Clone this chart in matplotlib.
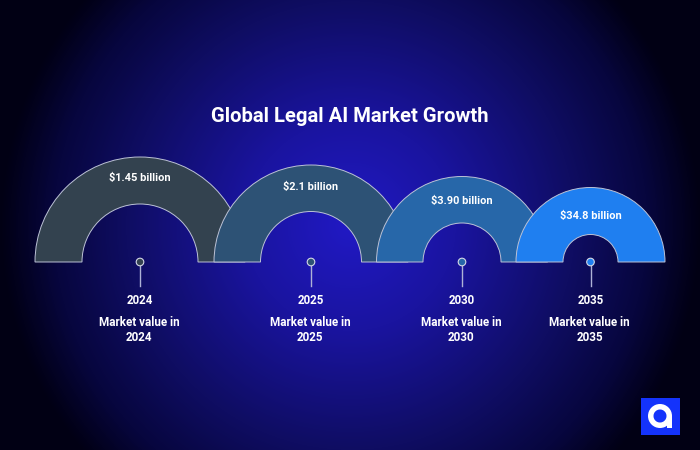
import numpy as np
import matplotlib
matplotlib.use("Agg")
import matplotlib.pyplot as plt
from matplotlib.colors import LinearSegmentedColormap
from matplotlib.patches import Wedge, Circle, Rectangle

plt.rcParams['font.family'] = ['Roboto', 'DejaVu Sans']

title = "Global Legal AI Market Growth"
years = ["2024", "2025", "2030", "2035"]
value_labels = ["$1.45 billion", "$2.1 billion", "$3.90 billion", "$34.8 billion"]
captions = ["Market value in\n2024", "Market value in\n2025", "Market value in\n2030", "Market value in\n2035"]

centers = [140, 311, 462, 590.5]
outer = [105, 97, 85.5, 74.5]
inner = [58, 50.5, 39, 27.5]
colors = ["#33424F", "#2D5275", "#2767A9", "#1F7FF0"]
value_y = [177.5, 187, 200.5, 215.5]
BASE = 262

fig = plt.figure(figsize=(7, 4.5), dpi=100)
ax = fig.add_axes([0, 0, 1, 1])
ax.axis("off")

yy, xx = np.mgrid[0:450, 0:700]
d = np.sqrt((xx - 350.0) ** 2 + (yy - 225.0) ** 2) / 350.0
bg = LinearSegmentedColormap.from_list(
    "bg", [(0, "#2119C4"), (0.3, "#1A149F"), (0.64, "#0F0D62"),
           (0.85, "#07063E"), (1.0, "#010014")])
ax.imshow(np.clip(d, 0, 1), cmap=bg, extent=(0, 700, 450, 0), aspect="auto",
          zorder=0, vmin=0, vmax=1)
ax.set_xlim(0, 700)
ax.set_ylim(450, 0)

ax.text(350, 117, title, color="white", fontsize=14.6, fontweight="bold",
        ha="center", va="center", zorder=10)

for i, (cx, ro, ri, col) in enumerate(zip(centers, outer, inner, colors)):
    ax.add_patch(Wedge((cx, BASE), ro, 180, 360, width=ro - ri, facecolor=col,
                       edgecolor="#BCC2D6", linewidth=0.7, zorder=2 + i))
    ax.plot([cx, cx], [BASE + 4, 286], color="#AEB2D6", lw=1.0, zorder=7)
    ax.add_patch(Circle((cx, BASE), 3.8, facecolor=col, edgecolor="#D5D8E6",
                        linewidth=0.8, zorder=8))
    ax.text(cx, value_y[i], value_labels[i], color="white", fontsize=7.9,
            fontweight="bold", ha="center", va="center", zorder=10)
    ax.text(cx, 300, years[i], color="white", fontsize=8.3, fontweight="bold",
            ha="center", va="center", zorder=10)
    ax.text(cx - 1, 330, captions[i], color="white", fontsize=8.4,
            fontweight="bold", ha="center", va="center", linespacing=1.2, zorder=10)

# logo
ax.add_patch(Rectangle((641, 398), 39, 37, facecolor="#1433FB", edgecolor="none", zorder=10))
ax.add_patch(Wedge((660, 416), 12, 0, 360, width=5.5, facecolor="white", edgecolor="none", zorder=11))
ax.add_patch(Rectangle((666.5, 416), 5.5, 12, facecolor="white", edgecolor="none", zorder=11))

fig.savefig("out.png", dpi=100)
